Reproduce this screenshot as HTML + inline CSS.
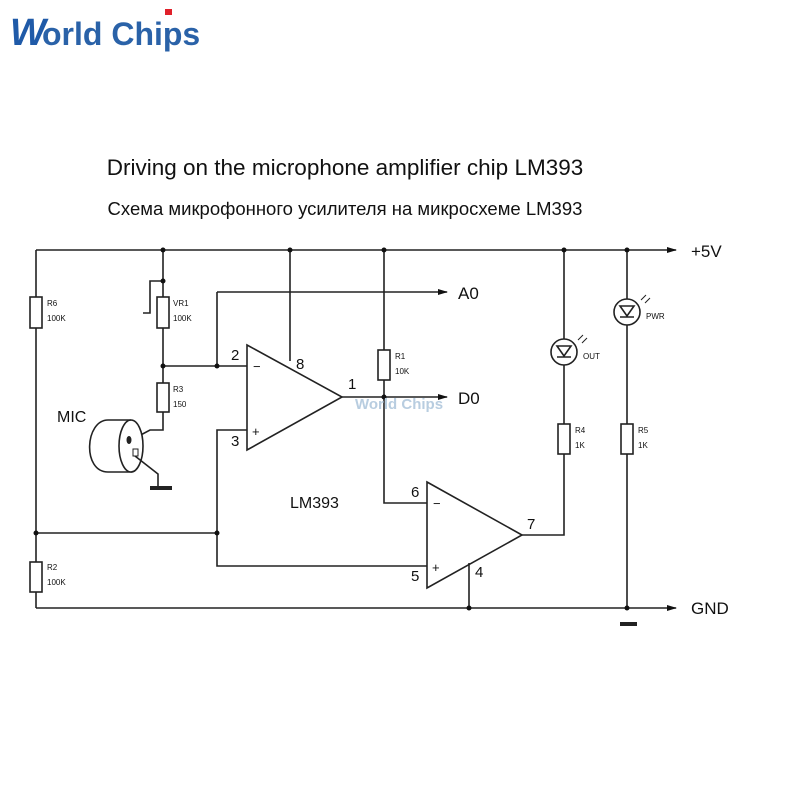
<!DOCTYPE html>
<html><head><style>
body{margin:0;background:#fff;width:800px;height:800px;overflow:hidden}
svg{display:block}
text{font-family:"Liberation Sans",Arial,sans-serif;fill:#111}
</style></head><body>
<svg width="800" height="800" viewBox="0 0 800 800">
<defs><marker id="ar" markerWidth="10" markerHeight="8" refX="9" refY="4" orient="auto" markerUnits="userSpaceOnUse"><path d="M0,1 L10,4 L0,7 Z" fill="#111"/></marker></defs>
<text x="10" y="45" font-size="38" font-weight="bold" style="fill:#1f5aa8;font-style:italic">W</text>
<text x="42" y="45" font-size="32" font-weight="bold" style="fill:#2a62a8">orld Chips</text>
<rect x="165" y="9" width="7" height="6" fill="#e0202a"/>
<text x="345" y="175" font-size="22.5" text-anchor="middle">Driving on the microphone amplifier chip LM393</text>
<text x="345" y="215" font-size="18.5" text-anchor="middle">Схема микрофонного усилителя на микросхеме LM393</text>
<g stroke="#222" stroke-width="1.6" fill="none">
<path d="M36,250 H676" marker-end="url(#ar)"/>
<path d="M36,608 H676" marker-end="url(#ar)"/>
<path d="M36,250 V297 M36,328 V562 M36,592 V608"/>
<rect x="30" y="297" width="12" height="31" fill="#fff"/>
<rect x="30" y="562" width="12" height="30" fill="#fff"/>
<path d="M36,533 H217"/>
<path d="M163,250 V297 M163,328 V383 M163,412 V430 H150 L135,438"/>
<rect x="157" y="297" width="12" height="31" fill="#fff"/>
<path d="M163,281 H150 V313 H143"/>
<rect x="157" y="383" width="12" height="29" fill="#fff"/>
<path d="M163,366 H247 M217,366 V292" />
<path d="M217,292 H447" marker-end="url(#ar)"/>
<path d="M290,250 V361"/>
<path d="M247,345 L342,397 L247,450 Z"/>
<path d="M247,430 H217 V566 H427"/>
<path d="M342,397 H447" marker-end="url(#ar)"/>
<path d="M384,250 V350 M384,380 V503 H427"/>
<rect x="378" y="350" width="12" height="30" fill="#fff"/>
<path d="M427,482 L522,535 L427,588 Z"/>
<path d="M522,535 H564 V454 M564,424 V365 M564,339 V250"/>
<rect x="558" y="424" width="12" height="30" fill="#fff"/>
<path d="M469,563 V608"/>
<path d="M627,250 V299 M627,325 V424 M627,454 V608"/>
<rect x="621" y="424" width="12" height="30" fill="#fff"/>
<circle cx="564" cy="352" r="13"/>
<circle cx="627" cy="312" r="13"/>
<path d="M557,346 H571 L564,356 Z M557,357 H571 M620,306 H634 L627,316 Z M620,317 H634"/>
<path d="M578,340 l5,-5 M582,343 l5,-5 M641,300 l5,-5 M645,303 l5,-5" stroke-width="1"/>
<path d="M108,420 C85,420 82,472 108,472 H132" />
<ellipse cx="131" cy="446" rx="12" ry="26" fill="#fff"/>
<path d="M108,420 H131"/>
<path d="M135,456 L158,474 V486"/>
<path d="M150,488 H172" stroke-width="4"/>
<path d="M620,624 H637" stroke-width="4"/>
</g>
<ellipse cx="129" cy="440" rx="2.5" ry="4" fill="#222"/>
<rect x="133" y="449" width="5" height="7" fill="none" stroke="#222"/>
<g fill="#111">
<circle cx="163" cy="250" r="2.5"/><circle cx="290" cy="250" r="2.5"/><circle cx="384" cy="250" r="2.5"/><circle cx="564" cy="250" r="2.5"/><circle cx="627" cy="250" r="2.5"/>
<circle cx="163" cy="281" r="2.5"/><circle cx="163" cy="366" r="2.5"/><circle cx="217" cy="366" r="2.5"/><circle cx="384" cy="397" r="2.5"/>
<circle cx="36" cy="533" r="2.5"/><circle cx="217" cy="533" r="2.5"/><circle cx="469" cy="608" r="2.5"/><circle cx="627" cy="608" r="2.5"/>
</g>
<g font-size="8">
<text x="47" y="306">R6</text><text x="47" y="321">100K</text>
<text x="173" y="306">VR1</text><text x="173" y="321">100K</text>
<text x="173" y="392">R3</text><text x="173" y="407">150</text>
<text x="47" y="570">R2</text><text x="47" y="585">100K</text>
<text x="395" y="359">R1</text><text x="395" y="374">10K</text>
<text x="575" y="433">R4</text><text x="575" y="448">1K</text>
<text x="638" y="433">R5</text><text x="638" y="448">1K</text>
<text x="583" y="359">OUT</text><text x="646" y="319">PWR</text>
</g>
<g font-size="15">
<text x="231" y="360">2</text><text x="296" y="369">8</text><text x="348" y="389">1</text><text x="231" y="446">3</text>
<text x="411" y="497">6</text><text x="411" y="581">5</text><text x="527" y="529">7</text><text x="475" y="577">4</text>
<text x="253" y="371" font-size="13">−</text><text x="252" y="436" font-size="13">+</text>
<text x="433" y="508" font-size="13">−</text><text x="432" y="572" font-size="13">+</text>
<text x="57" y="422" font-size="16">MIC</text>
<text x="290" y="508" font-size="16">LM393</text>
</g>
<g font-size="17">
<text x="458" y="299">A0</text><text x="458" y="404">D0</text>
<text x="691" y="257">+5V</text><text x="691" y="614">GND</text>
</g>
<text x="355" y="409" font-size="15" font-weight="bold" style="fill:#b8cde0">World Chips</text>
</svg>
</body></html>
